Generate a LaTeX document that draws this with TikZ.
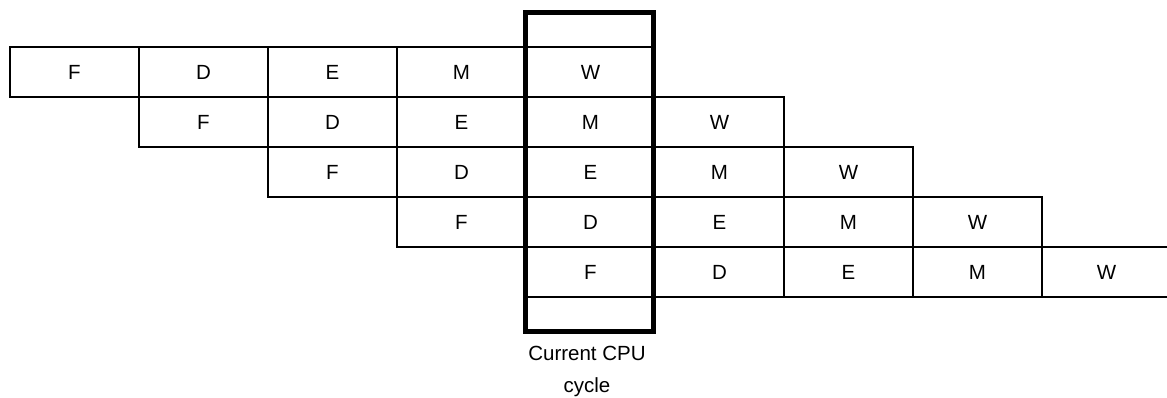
\documentclass[tikz,border=0pt]{standalone}
\usepackage{fontspec}
\setmainfont{Liberation Sans}
\begin{document}
\begin{tikzpicture}[x=1pt,y=-1pt,
  cell/.style={draw, line width=1.5pt, minimum width=129pt, minimum height=50pt,
    inner sep=0pt, font=\fontsize{20.5}{24}\selectfont},
  cyclebox/.style={draw, line width=5pt, minimum width=128pt, minimum height=319pt,
    inner sep=0pt},
  caption/.style={align=center, inner sep=0pt, font=\fontsize{20.5}{32}\selectfont}]
\useasboundingbox (0,0) rectangle (1167,398);
% five instructions, each shifted by one cycle
\foreach \r in {0,...,4} {
  \foreach \s [count=\k from 0] in {F,D,E,M,W} {
    \pgfmathtruncatemacro\j{\r+\k}
    \node[cell] (c\r\k) at ({74.5+129*\j},{72+50*\r}) {\s};
  }
}
% the cycle in progress
\node[cyclebox] (cur) at (589,172) {};
\node[caption] (curlabel) at (587,371) {Current CPU\\cycle};
\end{tikzpicture}
\end{document}
